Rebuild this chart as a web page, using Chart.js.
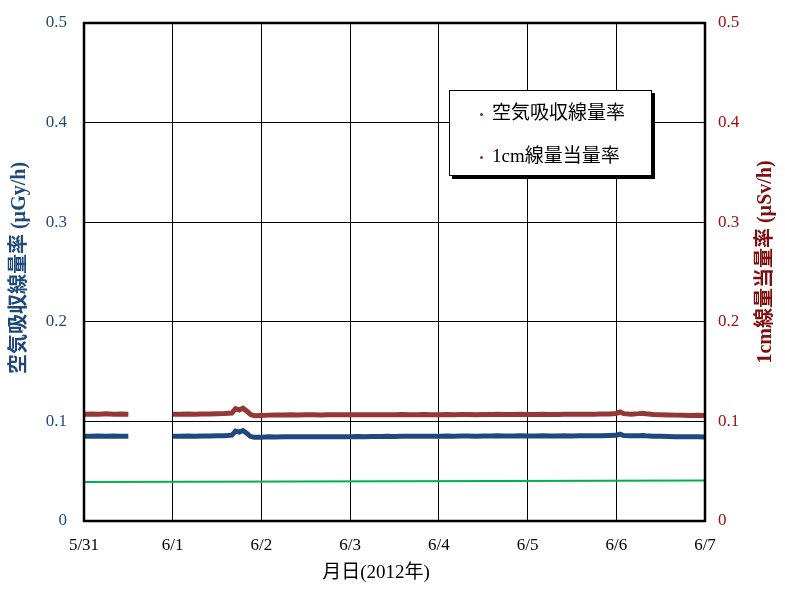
<!DOCTYPE html>
<html>
<head>
<meta charset="utf-8">
<script src="https://cdn.jsdelivr.net/npm/chart.js@4/dist/chart.umd.min.js"></script>
<style>
  html, body { margin: 0; padding: 0; background: #fff; }
  #wrap { position: relative; width: 785px; height: 591px; }
  #legend {
    position: absolute; left: 449px; top: 90px; width: 201px; height: 84px;
    border: 1px solid #000; background: #fff; box-shadow: 3px 3px 0 #000;
    font-family: "Liberation Serif", "Noto Sans CJK JP"; font-size: 19px; color: #000;
  }
  .item { position: absolute; left: 30px; white-space: nowrap; line-height: 20px; }
  .dot { display: inline-block; width: 3px; height: 3px; border-radius: 50%; margin-right: 9px; vertical-align: middle; }
</style>
</head>
<body>
<div id="wrap">
  <canvas id="chart" width="785" height="591"></canvas>
  <div id="legend"></div>
</div>
<script>
// x labels (one per day)
const dayLabels = ["5/31", "6/1", "6/2", "6/3", "6/4", "6/5", "6/6", "6/7"];

// hours since 5/31 00:00
const hours = [
  0, 2, 4, 6, 8, 10, 12, 13,
  24, 26, 28, 30, 32, 34, 36, 38, 40, 41, 42, 43, 44, 45, 46, 48,
  50, 52, 54, 56, 58, 60, 62, 64, 66, 68, 70, 72,
  74, 76, 78, 80, 82, 84, 86, 88, 90, 92, 94, 96,
  98, 100, 102, 104, 106, 108, 110, 112, 114, 116, 118, 120,
  122, 124, 126, 128, 130, 132, 134, 136, 138, 140, 142, 144,
  145, 146, 148, 150, 151, 152, 154, 156, 158, 160, 162, 164, 166, 168
];

// 空気吸収線量率 (µGy/h)
const airDose = [
  0.0852, 0.0850, 0.0853, 0.0851, 0.0854, 0.0850, 0.0852, null,
  0.0852, 0.0851, 0.0853, 0.0852, 0.0854, 0.0853, 0.0856, 0.0857, 0.0862, 0.0902, 0.0892, 0.0908, 0.0882, 0.0850, 0.0840, 0.0842,
  0.0845, 0.0844, 0.0846, 0.0845, 0.0847, 0.0846, 0.0847, 0.0845, 0.0846, 0.0847, 0.0846, 0.0847,
  0.0848, 0.0847, 0.0849, 0.0848, 0.0850, 0.0849, 0.0850, 0.0851, 0.0850, 0.0852, 0.0851, 0.0852,
  0.0853, 0.0852, 0.0854, 0.0853, 0.0852, 0.0854, 0.0853, 0.0855, 0.0854, 0.0853, 0.0855, 0.0854,
  0.0853, 0.0855, 0.0854, 0.0853, 0.0855, 0.0854, 0.0856, 0.0855, 0.0856, 0.0857, 0.0858, 0.0860,
  0.0872, 0.0858, 0.0855, 0.0857, 0.0859, 0.0855, 0.0852, 0.0850, 0.0848, 0.0847, 0.0846, 0.0845, 0.0846, 0.0844
];

// 1cm線量当量率 (µSv/h)
const doseEq = [
  0.1072, 0.1075, 0.1073, 0.1076, 0.1072, 0.1074, 0.1073, null,
  0.1073, 0.1072, 0.1074, 0.1073, 0.1075, 0.1074, 0.1077, 0.1079, 0.1084, 0.1128, 0.1115, 0.1133, 0.1105, 0.1070, 0.1057, 0.1060,
  0.1063, 0.1065, 0.1064, 0.1066, 0.1065, 0.1067, 0.1066, 0.1065, 0.1067, 0.1066, 0.1068, 0.1067,
  0.1066, 0.1068, 0.1067, 0.1066, 0.1068, 0.1067, 0.1069, 0.1068, 0.1067, 0.1069, 0.1068, 0.1067,
  0.1069, 0.1068, 0.1070, 0.1069, 0.1068, 0.1070, 0.1069, 0.1071, 0.1070, 0.1069, 0.1071, 0.1070,
  0.1069, 0.1071, 0.1070, 0.1069, 0.1071, 0.1072, 0.1071, 0.1073, 0.1072, 0.1074, 0.1075, 0.1080,
  0.1095, 0.1078, 0.1073, 0.1078, 0.1082, 0.1076, 0.1070, 0.1068, 0.1065, 0.1063, 0.1061, 0.1060, 0.1061, 0.1059
];

// green reference line
const refHours = [0, 168];
const refValues = [0.0392, 0.0406];

const BLUE = "#1F497D";
const RED = "#953735";
const GREEN = "#00B050";

const toPoints = (xs, ys) => xs.map((x, i) => ({ x: x, y: ys[i] }));

// fixed box sizes, and no extra room asked for by overflowing tick labels
const fixSize = (w, h) => (scale) => {
  if (w !== null) scale.width = w;
  if (h !== null) scale.height = h;
  scale.paddingTop = 0;
  scale.paddingBottom = 0;
  scale.paddingLeft = 0;
  scale.paddingRight = 0;
};

// heavy frame around the plot + axis titles drawn by hand (both read bottom-to-top)
const axisTitles = {
  id: "axisTitles",
  afterDraw(chart) {
    const ctx = chart.ctx;
    const a = chart.chartArea;
    ctx.save();
    ctx.strokeStyle = "#000";
    ctx.lineWidth = 2.5;
    ctx.strokeRect(a.left, a.top, a.right - a.left, a.bottom - a.top);

    ctx.textAlign = "center";
    ctx.textBaseline = "middle";
    ctx.font = 'bold 20px "Liberation Serif", "Noto Sans CJK JP"';

    ctx.save();
    ctx.translate(20, 268);
    ctx.rotate(-Math.PI / 2);
    ctx.fillStyle = BLUE;
    ctx.fillText("空気吸収線量率 (µGy/h)", 0, 0);
    ctx.restore();

    ctx.save();
    ctx.translate(766, 262);
    ctx.rotate(-Math.PI / 2);
    ctx.fillStyle = "#7F0F0F";
    ctx.fillText("1cm線量当量率 (µSv/h)", 0, 0);
    ctx.restore();

    ctx.font = '19px "Liberation Serif", "Noto Sans CJK JP"';
    ctx.fillStyle = "#000";
    ctx.fillText("月日(2012年)", 376, 573);
    ctx.restore();
  },
};

const chart = new Chart(document.getElementById("chart"), {
  type: "line",
  data: {
    datasets: [
      {
        label: "空気吸収線量率",
        data: toPoints(hours, airDose),
        borderColor: BLUE,
        backgroundColor: BLUE,
        borderWidth: 5,
        pointRadius: 0,
        spanGaps: false,
        yAxisID: "y",
      },
      {
        label: "1cm線量当量率",
        data: toPoints(hours, doseEq),
        borderColor: RED,
        backgroundColor: RED,
        borderWidth: 5,
        pointRadius: 0,
        spanGaps: false,
        yAxisID: "y2",
      },
      {
        label: "ref",
        data: toPoints(refHours, refValues),
        borderColor: GREEN,
        borderWidth: 2,
        pointRadius: 0,
        yAxisID: "y",
      },
    ],
  },
  options: {
    responsive: false,
    animation: false,
    layout: { padding: { top: 23, left: 0, right: 0, bottom: 0 } },
    plugins: {
      legend: { display: false },
      tooltip: { enabled: false },
    },
    scales: {
      x: {
        type: "linear",
        min: 0,
        max: 168,
        afterFit: fixSize(null, 70),
        afterBuildTicks: (scale) => {
          scale.ticks = dayLabels.map((_, i) => ({ value: i * 24 }));
        },
        ticks: {
          autoSkip: false,
          maxRotation: 0,
          padding: 14,
          color: "#000",
          font: { family: "Liberation Serif", size: 17 },
          callback: (v) => dayLabels[Math.round(v / 24)],
        },
        grid: { color: "#000", lineWidth: 1, drawTicks: false },
        border: { color: "#000", width: 2 },
      },
      y: {
        position: "left",
        min: 0,
        max: 0.5,
        afterFit: fixSize(84, null),
        ticks: {
          stepSize: 0.1,
          padding: 17,
          color: BLUE,
          font: { family: "Liberation Serif", size: 17 },
          callback: (v) => (v === 0 ? "0" : v.toFixed(1)),
        },
        grid: { color: "#000", lineWidth: 1, drawTicks: false },
        border: { color: "#000", width: 2 },
      },
      y2: {
        position: "right",
        min: 0,
        max: 0.5,
        afterFit: fixSize(80, null),
        ticks: {
          stepSize: 0.1,
          padding: 13,
          color: "#A01010",
          font: { family: "Liberation Serif", size: 17 },
          callback: (v) => (v === 0 ? "0" : v.toFixed(1)),
        },
        grid: { drawOnChartArea: false, drawTicks: false },
        border: { color: "#000", width: 2 },
      },
    },
  },
  plugins: [axisTitles],
});

// legend box for the two measured series
const legendEl = document.getElementById("legend");
chart.data.datasets.slice(0, 2).forEach((ds, i) => {
  const row = document.createElement("div");
  row.className = "item";
  row.style.top = (12 + i * 43) + "px";
  row.innerHTML = `<span class="dot" style="background:${ds.borderColor}"></span>${ds.label}`;
  legendEl.appendChild(row);
});
</script>
</body>
</html>
